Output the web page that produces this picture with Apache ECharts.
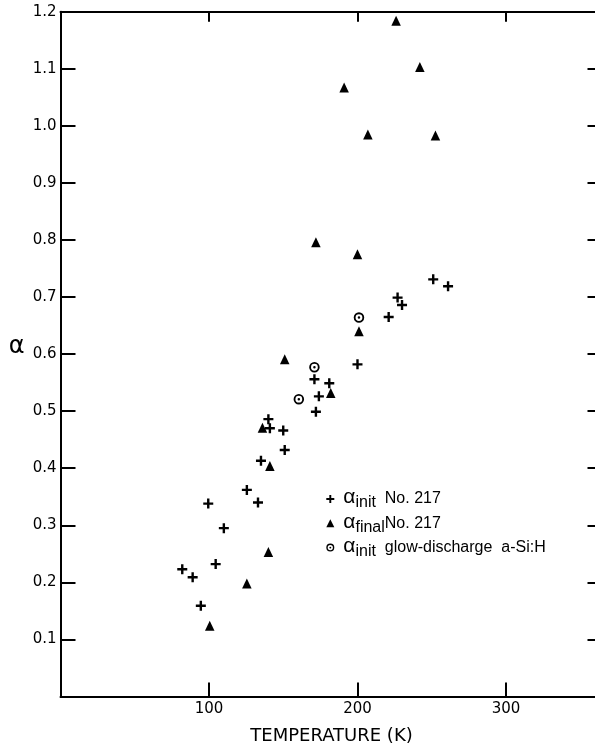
<!DOCTYPE html>
<html>
<head>
<meta charset="utf-8">
<script src="https://cdn.jsdelivr.net/npm/echarts@6/dist/echarts.min.js"></script>
<style>
  html, body { margin: 0; padding: 0; background: #fff; }
  #chart { width: 595px; height: 746px; }
</style>
</head>
<body>
<div id="chart"></div>
<script>
// Temperature (K) tick labels shown on the bottom axis
const xTickLabels = [100, 200, 300];

// α_init, sample No. 217: [temperature K, α]
const alphaInit217 = [
  [251, 0.731], [261, 0.719], [227, 0.699], [230, 0.686], [221, 0.665],
  [200, 0.582], [171, 0.556], [181, 0.549], [174, 0.526], [172, 0.499],
  [140, 0.486], [141, 0.470], [150, 0.466], [151, 0.432], [135, 0.413],
  [125.5, 0.362], [133, 0.340], [99.5, 0.338], [110, 0.295], [104.5, 0.232],
  [82, 0.223], [89, 0.209], [94.5, 0.159]
];

// α_final, sample No. 217
const alphaFinal217 = [
  [226, 1.184], [242, 1.103], [191, 1.067], [207, 0.985], [252.5, 0.983],
  [172, 0.796], [200, 0.775], [201, 0.640], [151, 0.591], [182, 0.532],
  [136, 0.471], [141, 0.404], [140, 0.253], [125.5, 0.198], [100.5, 0.124]
];

// α_init, glow-discharge a-Si:H
const alphaInitGlow = [
  [201, 0.664], [171, 0.577], [160.5, 0.521]
];

const seriesNames = ['init217', 'final217', 'initGlow'];
const legendLabels = {
  init217: '{a|α}{s|init}{t|  No. 217}',
  final217: '{a|α}{s|final}{t|No. 217}',
  initGlow: '{a|α}{s|init}{t|  glow-discharge  a-Si:H}'
};

const INK = '#000';
const plusPath = 'path://M3.8,0h2.4v3.8h3.8v2.4h-3.8v3.8h-2.4v-3.8h-3.8v-2.4h3.8z';
const dotRingPath = 'path://M10,0A10,10,0,1,1,10,20A10,10,0,1,1,10,0Z' +
  'M10,3.5A6.5,6.5,0,1,0,10,16.5A6.5,6.5,0,1,0,10,3.5Z' +
  'M10,7.6A2.4,2.4,0,1,1,10,12.4A2.4,2.4,0,1,1,10,7.6Z';

const axisLine = { show: true, onZero: false, lineStyle: { color: INK, width: 2 } };
const tickFont = { fontFamily: 'DejaVu Sans', fontSize: 15, color: INK };

const chart = echarts.init(document.getElementById('chart'), null, { renderer: 'canvas' });

chart.setOption({
  animation: false,
  backgroundColor: '#fff',
  grid: {
    left: 60.5, top: 11.7, width: 542, height: 684.8,
    containLabel: false, outerBoundsMode: 'none'
  },
  xAxis: [
    {
      type: 'value', position: 'bottom', min: 0, max: 365, interval: 100,
      axisLine: axisLine,
      axisTick: { show: true, inside: true, length: 14, lineStyle: { color: INK, width: 2 } },
      axisLabel: Object.assign({
        margin: 5,
        showMaxLabel: false,
        formatter: v => (xTickLabels.indexOf(v) >= 0 ? String(v) : '')
      }, tickFont),
      splitLine: { show: false },
      name: 'TEMPERATURE (K)',
      nameLocation: 'middle',
      nameGap: 31,
      nameTextStyle: { fontFamily: 'DejaVu Sans', fontSize: 18, color: INK }
    },
    {
      type: 'value', position: 'top', min: 0, max: 365, interval: 100,
      axisLine: axisLine,
      axisTick: { show: true, inside: true, length: 10, lineStyle: { color: INK, width: 2 } },
      axisLabel: { show: false },
      splitLine: { show: false }
    }
  ],
  yAxis: [
    {
      type: 'value', position: 'left', min: 0, max: 1.2, interval: 0.1,
      axisLine: axisLine,
      axisTick: { show: true, inside: true, length: 15, lineStyle: { color: INK, width: 2 } },
      axisLabel: Object.assign({
        margin: 4,
        formatter: v => (v > 0.001 ? v.toFixed(1) : '')
      }, tickFont),
      splitLine: { show: false },
      name: 'α',
      nameLocation: 'middle',
      nameRotate: 0,
      nameGap: 36,
      nameTextStyle: {
        fontFamily: 'DejaVu Sans', fontSize: 24, lineHeight: 15, color: INK,
        verticalAlign: 'bottom'
      }
    },
    {
      type: 'value', position: 'right', min: 0, max: 1.2, interval: 0.1,
      axisLine: axisLine,
      axisTick: { show: true, inside: true, length: 15, lineStyle: { color: INK, width: 2 } },
      axisLabel: { show: false },
      splitLine: { show: false }
    }
  ],
  legend: {
    orient: 'vertical',
    left: 326.3,
    top: 487,
    padding: 0,
    itemGap: 0.3,
    itemWidth: 8,
    itemHeight: 8,
    selectedMode: false,
    data: seriesNames,
    formatter: name => legendLabels[name],
    textStyle: {
      color: INK,
      fontFamily: 'Liberation Sans',
      fontSize: 16,
      rich: {
        a: { fontFamily: 'Liberation Sans', fontSize: 21, lineHeight: 21, color: INK, padding: [0, 0, 3, 4] },
        s: { fontFamily: 'Liberation Sans', fontSize: 16, lineHeight: 12, color: INK, verticalAlign: 'bottom' },
        t: { fontFamily: 'Liberation Sans', fontSize: 16, lineHeight: 24, color: INK }
      }
    }
  },
  series: [
    {
      name: seriesNames[0], type: 'scatter', data: alphaInit217,
      symbol: plusPath, symbolSize: 10, symbolKeepAspect: true,
      itemStyle: { color: INK, opacity: 1 }
    },
    {
      name: seriesNames[1], type: 'scatter', data: alphaFinal217,
      symbol: 'triangle', symbolSize: [9.5, 10],
      itemStyle: { color: INK, opacity: 1 }
    },
    {
      name: seriesNames[2], type: 'scatter', data: alphaInitGlow,
      symbol: dotRingPath, symbolSize: 10.5, symbolKeepAspect: true,
      itemStyle: { color: INK, opacity: 1 }
    }
  ]
});
</script>
</body>
</html>
